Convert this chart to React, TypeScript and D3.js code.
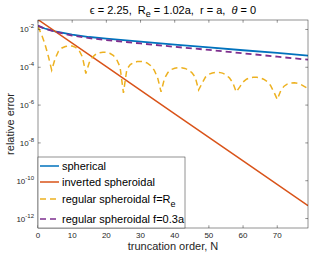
import React from "react";
import * as d3 from "d3";

// log10 of the relative error
const nSpherical = [0, 2, 5, 10, 15, 20, 30, 40, 50, 60, 70, 79];
const spherical = [-1.82, -1.95, -2.1, -2.27, -2.4, -2.48, -2.64, -2.8, -2.95, -3.1, -3.24, -3.38];

const nInverted = [0, 20, 40, 60, 79];
const inverted = [-1.48, -3.97, -6.46, -8.95, -11.32];

// regular spheroidal f=Re, one value per N = 0..79
const regularRe = [
  -1.85, -2.25, -2.75, -3.4, -4.15, -3.55, -3.15, -2.98, -2.9, -2.87,
  -2.88, -2.95, -3.1, -3.45, -4.33, -3.75, -3.45, -3.3, -3.23, -3.2,
  -3.21, -3.26, -3.37, -3.58, -3.98, -5.35, -4.1, -3.86, -3.75, -3.7,
  -3.69, -3.71, -3.78, -3.92, -4.15, -4.55, -5.3, -4.6, -4.28, -4.12,
  -4.05, -4.02, -4.02, -4.06, -4.14, -4.28, -4.52, -5.2, -4.85, -4.52,
  -4.37, -4.3, -4.27, -4.27, -4.31, -4.4, -4.56, -4.82, -5.3, -5.05,
  -4.78, -4.63, -4.56, -4.53, -4.53, -4.56, -4.63, -4.75, -4.95, -5.3,
  -5.7, -5.25, -5.0, -4.88, -4.83, -4.82, -4.85, -4.92, -5.02, -5.12,
];

const nRegular03 = [0, 2, 5, 10, 15, 20, 30, 40, 50, 60, 70, 79];
const regular03 = [-1.8, -1.96, -2.12, -2.32, -2.46, -2.56, -2.74, -2.92, -3.08, -3.26, -3.44, -3.6];

const xTicks = [0, 10, 20, 30, 40, 50, 60, 70];
const yTickExps = [-12, -10, -8, -6, -4, -2];

const W = 311;
const H = 259;
const left = 38, right = 308, top = 20, bottom = 228;
const axisColor = "#262626";
const font = "'Liberation Sans', Arial, Helvetica, sans-serif";

export default function App() {
  const x = d3.scaleLinear().domain([0, 79]).range([left, right]);
  const y = d3.scaleLog().domain([10 ** -12.5, 10 ** -1.5]).range([bottom, top]);

  const line = d3
    .line<[number, number]>()
    .x((d) => x(d[0]))
    .y((d) => y(10 ** d[1]));

  const pts = (ns: number[], vs: number[]) => ns.map((n, i) => [n, vs[i]] as [number, number]);

  const series = [
    { name: "spherical", d: pts(nSpherical, spherical), color: "#0072BD", dash: null, w: 1.8 },
    { name: "inverted spheroidal", d: pts(nInverted, inverted), color: "#D95319", dash: null, w: 1.5 },
    { name: "regular", d: regularRe.map((v, i) => [i, v] as [number, number]), color: "#EDB120", dash: "6,4", w: 1.5 },
    { name: "regular03", d: pts(nRegular03, regular03), color: "#7E2F8E", dash: "6,4", w: 1.8 },
  ];

  const tick = 2.7;

  return (
    <svg
      width={W}
      height={H}
      style={{ position: "absolute", left: 0, top: 0, background: "#fff" }}
      fontFamily={font}
    >
      <defs>
        <clipPath id="plotclip">
          <rect x={left} y={top} width={right - left} height={bottom - top} />
        </clipPath>
      </defs>
      <rect x={0} y={0} width={W} height={H} fill="#fff" />

      {/* title */}
      <text x={(left + right) / 2} y={14} textAnchor="middle" fontSize={11} fill="#000" style={{ whiteSpace: "pre" }}>
        {"ϵ = 2.25,  R"}
        <tspan fontSize={9} dy={3}>e</tspan>
        <tspan dy={-3}>{" = 1.02a,  r = a,  "}</tspan>
        <tspan fontStyle="italic">θ</tspan>
        {" = 0"}
      </text>

      {/* lines */}
      <g clipPath="url(#plotclip)">
        {series.map((s) => (
          <path
            key={s.name}
            d={line(s.d) || ""}
            fill="none"
            stroke={s.color}
            strokeWidth={s.w}
            strokeDasharray={s.dash || undefined}
          />
        ))}
      </g>

      {/* axes box */}
      <rect x={left} y={top} width={right - left} height={bottom - top} fill="none" stroke={axisColor} strokeWidth={0.5} />
      {xTicks.map((t) => (
        <g key={"x" + t}>
          <line x1={x(t)} x2={x(t)} y1={bottom} y2={bottom - tick} stroke={axisColor} strokeWidth={0.5} />
          <line x1={x(t)} x2={x(t)} y1={top} y2={top + tick} stroke={axisColor} strokeWidth={0.5} />
          <text x={x(t)} y={238} textAnchor="middle" fontSize={8} fill={axisColor}>
            {t}
          </text>
        </g>
      ))}
      {yTickExps.map((e) => (
        <g key={"y" + e}>
          <line x1={left} x2={left + tick} y1={y(10 ** e)} y2={y(10 ** e)} stroke={axisColor} strokeWidth={0.5} />
          <line x1={right} x2={right - tick} y1={y(10 ** e)} y2={y(10 ** e)} stroke={axisColor} strokeWidth={0.5} />
          <text x={left - 4} y={y(10 ** e) + 3} textAnchor="end" fontSize={8} fill={axisColor}>
            10
            <tspan fontSize={6} dy={-4}>{String(e)}</tspan>
          </text>
        </g>
      ))}

      {/* axis labels */}
      <text x={(left + right) / 2} y={250} textAnchor="middle" fontSize={11} fill={axisColor}>
        truncation order, N
      </text>
      <text
        transform={`translate(14,${(top + bottom) / 2}) rotate(-90)`}
        textAnchor="middle"
        fontSize={11}
        fill={axisColor}
      >
        relative error
      </text>

      {/* legend */}
      <g>
        <rect x={left} y={157} width={147} height={bottom - 157} fill="#fff" stroke={axisColor} strokeWidth={0.5} />
        {[
          { label: "spherical", c: "#0072BD", dash: null, yy: 166 },
          { label: "inverted spheroidal", c: "#D95319", dash: null, yy: 182 },
          { label: "regular spheroidal f=R", c: "#EDB120", dash: "6,4", yy: 199, sub: "e" },
          { label: "regular spheroidal f=0.3a", c: "#7E2F8E", dash: "6,4", yy: 219 },
        ].map((l) => (
          <g key={l.label}>
            <line x1={40} x2={59} y1={l.yy} y2={l.yy} stroke={l.c} strokeWidth={1.5} strokeDasharray={l.dash || undefined} />
            <text x={62} y={l.yy + 4} fontSize={11} fill="#000">
              {l.label}
              {l.sub ? <tspan fontSize={9} dy={4}>{l.sub}</tspan> : null}
            </text>
          </g>
        ))}
      </g>
    </svg>
  );
}
